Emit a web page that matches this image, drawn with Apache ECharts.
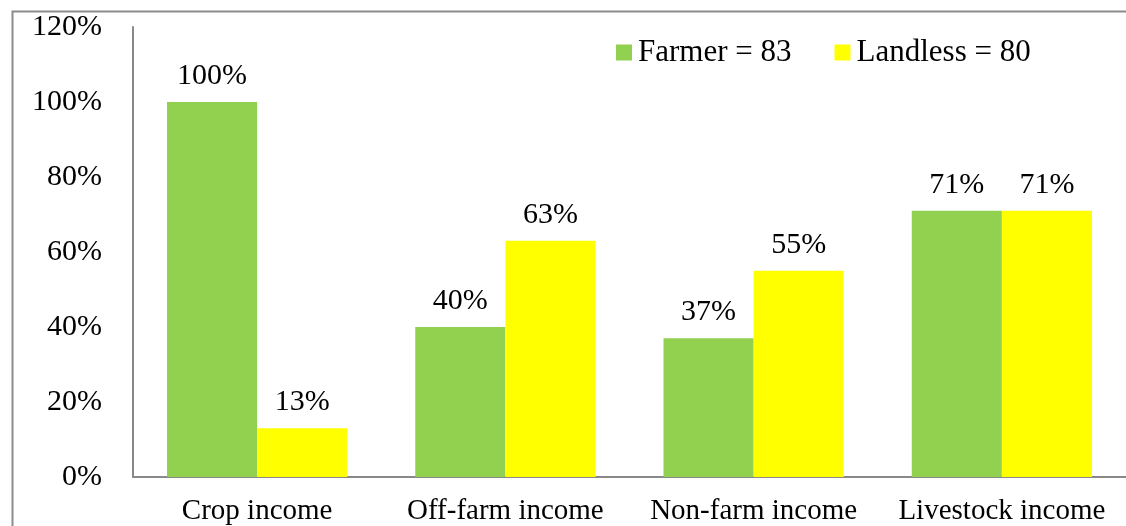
<!DOCTYPE html>
<html>
<head>
<meta charset="utf-8">
<script src="https://cdn.jsdelivr.net/npm/echarts@6/dist/echarts.min.js"></script>
<style>
html,body{margin:0;padding:0;background:#fff;}
#chart{width:1126px;height:526px;}
</style>
</head>
<body>
<div id="chart"></div>
<script>
const categories = ['Crop income', 'Off-farm income', 'Non-farm income', 'Livestock income'];
const farmerValues = [100, 40, 37, 71];
const landlessValues = [13, 63, 55, 71];
const seriesNames = ['Farmer = 83', 'Landless = 80'];
const yTicks = [0, 20, 40, 60, 80, 100, 120];

const FONT = '"Liberation Serif", "Times New Roman", serif';
const chart = echarts.init(document.getElementById('chart'));
const labelStyle = {
  show: true, position: 'top', distance: 11,
  fontFamily: FONT, fontSize: 30, color: '#000',
  formatter: p => Math.round(p.value) + '%'
};
chart.setOption({
  animation: false,
  graphic: [{
    type: 'rect', left: 10, top: 9, silent: true,
    shape: { x: 0, y: 0, width: 1300, height: 700 },
    style: { fill: 'none', stroke: '#8c8c8c', lineWidth: 2 }
  }],
  legend: {
    data: seriesNames,
    left: 611, top: 32,
    itemWidth: 16, itemHeight: 16, itemGap: 43,
    icon: 'rect',
    textStyle: { fontFamily: FONT, fontSize: 31, color: '#000', padding: [0, 0, 0, 1] }
  },
  grid: { left: 133, top: 27, width: 1002, height: 450, containLabel: false },
  xAxis: {
    type: 'category', data: categories,
    axisLine: { lineStyle: { color: '#898989', width: 2 } },
    axisTick: { show: false },
    axisLabel: { fontFamily: FONT, fontSize: 29, color: '#000', margin: 20, interval: 0 }
  },
  yAxis: {
    type: 'value', min: yTicks[0], max: yTicks[yTicks.length - 1], interval: 20,
    axisLine: { show: true, lineStyle: { color: '#898989', width: 2 } },
    axisTick: { show: false },
    splitLine: { show: false },
    axisLabel: { fontFamily: FONT, fontSize: 30, color: '#000', margin: 31, formatter: v => v + '%' }
  },
  series: [
    { name: seriesNames[0], type: 'bar', data: farmerValues, barWidth: '36.3%', barGap: '0%',
      itemStyle: { color: '#92D050' }, label: labelStyle },
    { name: seriesNames[1], type: 'bar', data: landlessValues, barWidth: '36.3%', barGap: '0%',
      itemStyle: { color: '#FFFF00' }, label: labelStyle }
  ]
});
</script>
</body>
</html>
